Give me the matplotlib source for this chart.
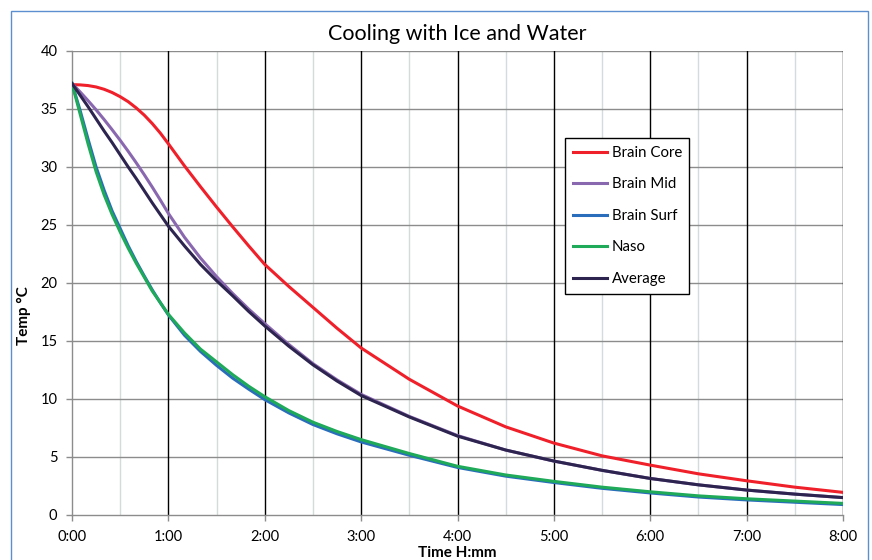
import matplotlib
matplotlib.use("Agg")
import matplotlib.pyplot as plt
from matplotlib.patches import Rectangle

plt.rcParams['font.family'] = ['Lato', 'DejaVu Sans']

# time in minutes
minutes = [0, 5, 10, 15, 20, 25, 30, 35, 40, 45, 50, 55, 60, 70, 80, 90, 100, 110,
           120, 135, 150, 165, 180, 210, 240, 270, 300, 330, 360, 390, 420, 450, 480]
brain_core = [37.1, 37.08, 37.02, 36.9, 36.7, 36.42, 36.06, 35.63, 35.09, 34.47, 33.74,
              32.92, 32.0, 30.1, 28.3, 26.55, 24.85, 23.2, 21.6, 19.7, 17.9, 16.1,
              14.4, 11.7, 9.4, 7.6, 6.2, 5.1, 4.3, 3.55, 2.95, 2.4, 1.95]
brain_mid = [37.2, 36.48, 35.72, 34.93, 34.09, 33.21, 32.3, 31.35, 30.36, 29.33, 28.26,
             27.15, 26.0, 23.95, 22.15, 20.55, 19.1, 17.75, 16.5, 14.7, 13.05, 11.65,
             10.4, 8.5, 6.85, 5.6, 4.65, 3.85, 3.15, 2.6, 2.15, 1.8, 1.5]
brain_surf = [37.2, 34.9, 32.4, 30.0, 28.0, 26.2, 24.7, 23.2, 21.85, 20.6, 19.4,
              18.3, 17.25, 15.5, 14.1, 12.9, 11.8, 10.85, 9.95, 8.8, 7.8, 7.0,
              6.3, 5.15, 4.1, 3.35, 2.8, 2.3, 1.9, 1.55, 1.3, 1.1, 0.9]
naso = [37.2, 34.6, 32.0, 29.6, 27.6, 25.9, 24.4, 23.0, 21.7, 20.5, 19.3,
        18.3, 17.3, 15.7, 14.3, 13.2, 12.1, 11.1, 10.2, 9.0, 8.0, 7.2,
        6.5, 5.3, 4.2, 3.45, 2.9, 2.4, 2.0, 1.65, 1.4, 1.2, 1.0]
average = [37.2, 36.2, 35.2, 34.15, 33.1, 32.1, 31.05, 30.0, 29.0, 27.95, 26.9,
           25.9, 24.9, 23.2, 21.6, 20.2, 18.9, 17.55, 16.3, 14.55, 12.95, 11.55,
           10.3, 8.45, 6.8, 5.6, 4.65, 3.85, 3.15, 2.6, 2.15, 1.8, 1.5]

series_names = ["Brain Core", "Brain Mid", "Brain Surf", "Naso", "Average"]
series_colors = ["#F0202A", "#8A68B0", "#2A6DBB", "#1EAA58", "#2E2450"]
x_tick_labels = ["0:00", "1:00", "2:00", "3:00", "4:00", "5:00", "6:00", "7:00", "8:00"]
y_ticks = [0, 5, 10, 15, 20, 25, 30, 35, 40]

hours = [m / 60 for m in minutes]

W, H = 872, 560
fig = plt.figure(figsize=(W / 100, H / 100), dpi=100)
ax = fig.add_axes([72 / W, 1 - 515 / H, (843 - 72) / W, (515 - 51) / H])

# outer border
fig.patches.append(Rectangle((11 / W, -0.05), (868 - 11) / W, 1.05 - 11 / H,
                             transform=fig.transFigure, fill=False,
                             edgecolor="#5B8FD0", linewidth=1.0))

data = [brain_core, brain_mid, brain_surf, naso, average]
zorders = [5, 5, 5, 6, 6]
for i in range(5):
    ax.plot(hours, data[i], color=series_colors[i], linewidth=2.2,
            label=series_names[i], zorder=zorders[i])

ax.set_xlim(0, 8)
ax.set_ylim(0, 40)
ax.set_xticks(range(9))
ax.set_xticklabels(x_tick_labels)
ax.set_yticks(y_ticks)

# grid
for h in range(1, 9):
    ax.axvline(h, color="black", linewidth=1.0, zorder=2)
for h in range(8):
    ax.axvline(h + 0.5, color="#D3DBDB", linewidth=1.0, zorder=1)
for v in y_ticks[1:]:
    ax.axhline(v, color="#8C8C8C", linewidth=1.0, zorder=1.5)

for s in ["top", "right"]:
    ax.spines[s].set_visible(False)
for s in ["left", "bottom"]:
    ax.spines[s].set_color("#8C8C8C")
    ax.spines[s].set_linewidth(1.0)

ax.tick_params(axis='both', which='major', length=4, width=1, color="#8C8C8C",
               labelsize=10.5)
ax.tick_params(axis='x', pad=7.0)
ax.tick_params(axis='y', pad=6.5)

ax.set_title("Cooling with Ice and Water", fontsize=15.5, pad=8)
ax.set_xlabel("Time H:mm", fontsize=11, fontweight='bold', va='center')
ax.xaxis.set_label_coords(0.5, (515 - 553) / 464)
ax.set_ylabel("Temp °C", fontsize=11, fontweight='bold', va='center')
ax.yaxis.set_label_coords((24 - 72) / 771, (515 - 316) / 464)

leg = ax.legend(loc='upper left', bbox_to_anchor=(565 / W, 1 - 138.3 / H),
                bbox_transform=fig.transFigure,
                frameon=True, fancybox=False, edgecolor="black", framealpha=1,
                fontsize=10.8, handlelength=2.27, handletextpad=0.33,
                labelspacing=1.17, borderpad=0.5, borderaxespad=0)
leg.get_frame().set_linewidth(1.0)
leg.set_zorder(10)

# widen the legend frame to the reference box width (565..689 px)
fig.canvas.draw()
leg.get_frame().set_width(689 - 565)

fig.savefig("out.png", dpi=100)
